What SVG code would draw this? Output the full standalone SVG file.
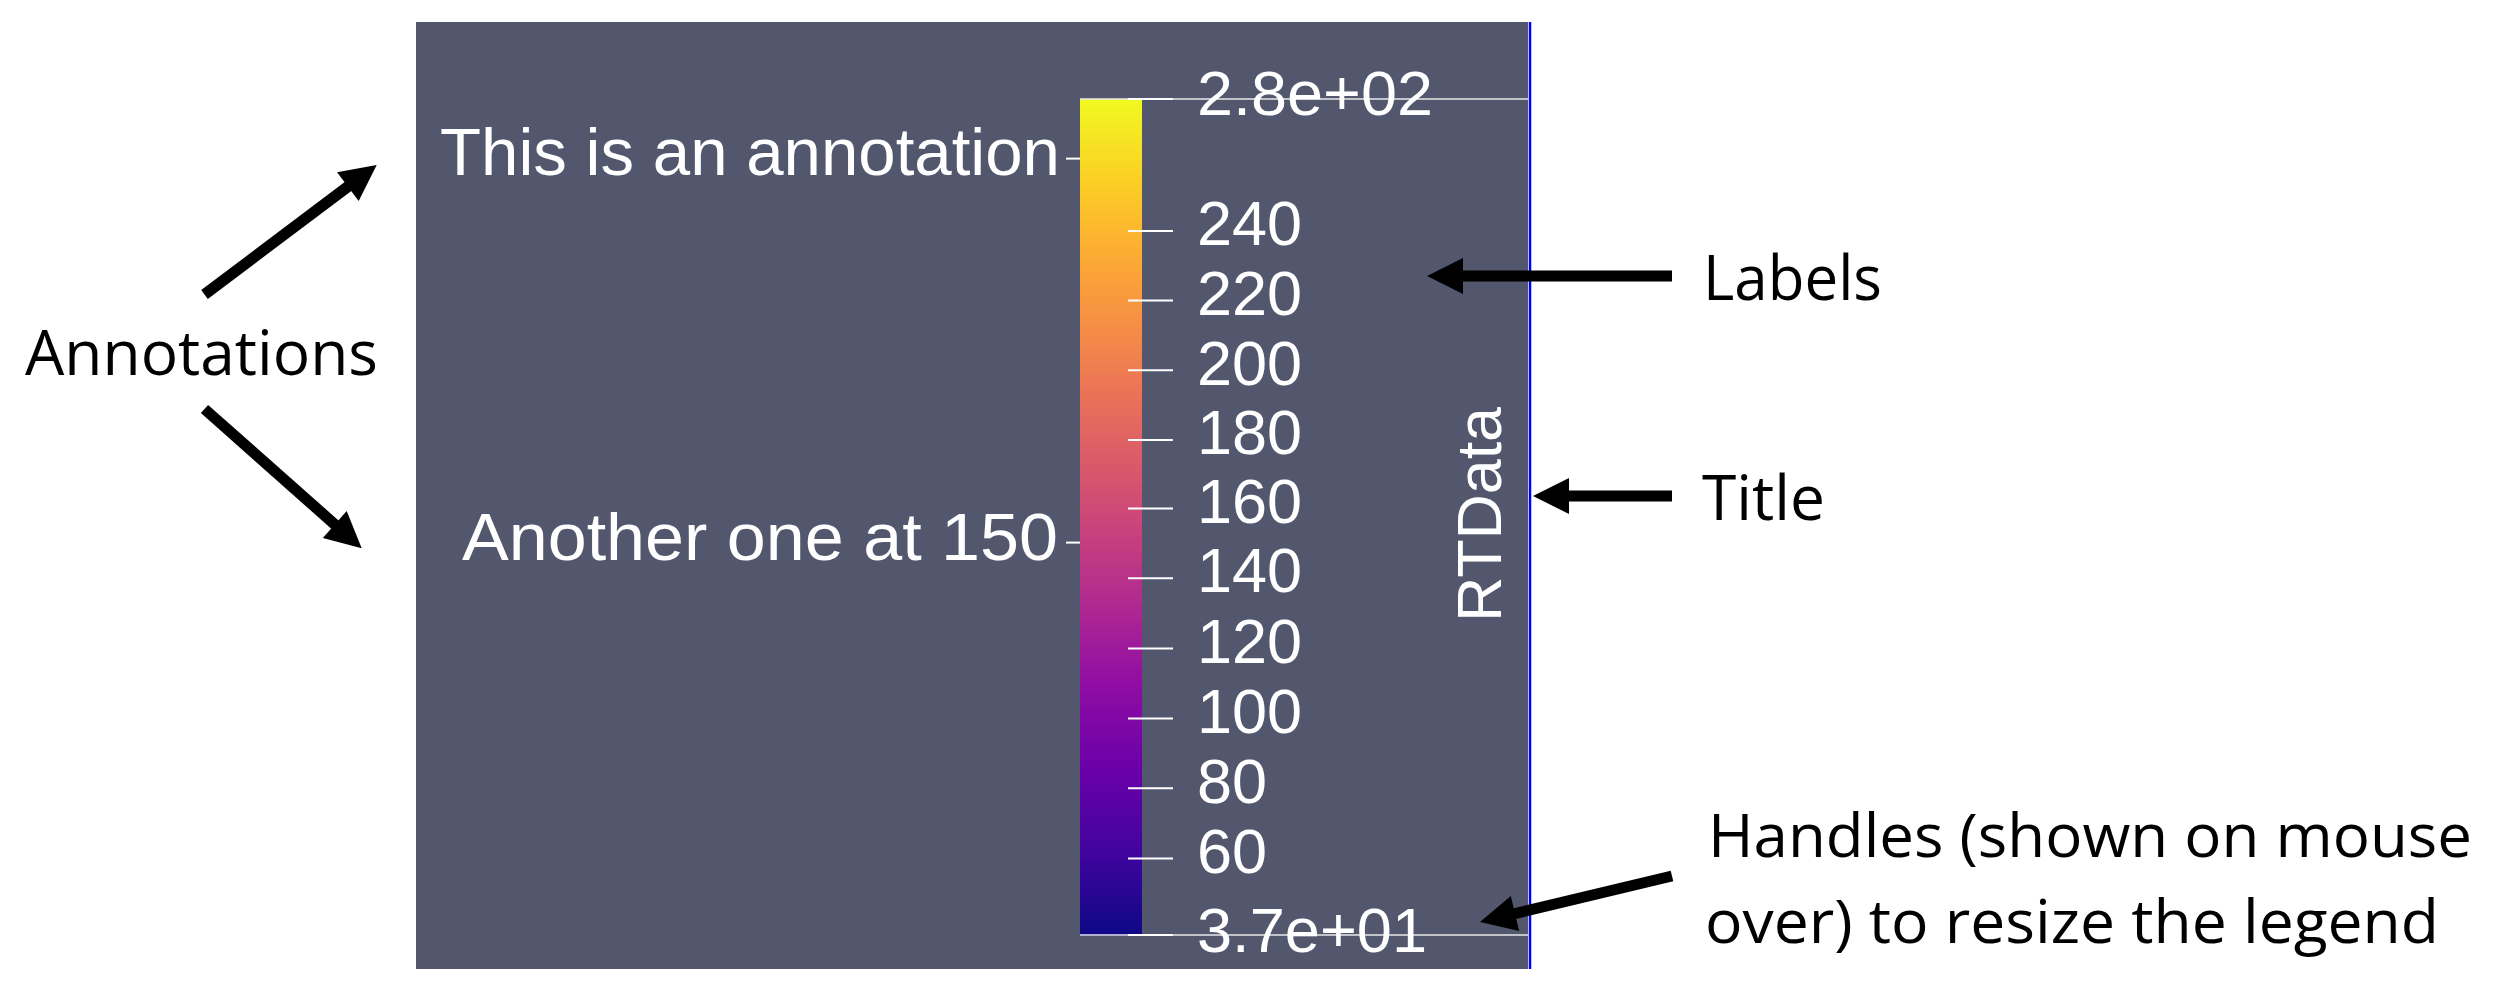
<svg xmlns="http://www.w3.org/2000/svg" width="2496" height="994" viewBox="0 0 2496 994">
  <style>
    .pv { font-family: "Liberation Sans", Arial, sans-serif; fill: #ffffff; font-size: 63px; }
    .ann { font-family: "Liberation Sans", Arial, sans-serif; fill: #ffffff; font-size: 66px; }
    .call { font-family: "Open Sans", "Liberation Sans", sans-serif; fill: #000000; font-size: 63px; }
    .call2 { font-family: "Open Sans", "Liberation Sans", sans-serif; fill: #000000; font-size: 60px; }
    .tick { stroke: #ffffff; stroke-width: 2; }
    .edge { stroke: #e8e8e8; stroke-width: 1.5; }
    .arrow { stroke: #000000; stroke-width: 11; fill: none; marker-end: url(#head); }
  </style>
  <defs>
    <linearGradient id="plasma" x1="0" y1="1" x2="0" y2="0">
      <stop offset="0" stop-color="#0d0887"/>
      <stop offset="0.1" stop-color="#41049d"/>
      <stop offset="0.2" stop-color="#6a00a8"/>
      <stop offset="0.3" stop-color="#8f0da4"/>
      <stop offset="0.4" stop-color="#b12a90"/>
      <stop offset="0.5" stop-color="#cc4778"/>
      <stop offset="0.6" stop-color="#e16462"/>
      <stop offset="0.7" stop-color="#f2844b"/>
      <stop offset="0.8" stop-color="#fca636"/>
      <stop offset="0.9" stop-color="#fcce25"/>
      <stop offset="1" stop-color="#f0f921"/>
    </linearGradient>
    <marker id="head" markerUnits="userSpaceOnUse" markerWidth="40" markerHeight="40" viewBox="0 -20 40 40" refX="0" refY="0" orient="auto" overflow="visible">
      <path d="M-1,-18 L35,0 L-1,18 Z" fill="#000000"/>
    </marker>
  </defs>

  <rect width="2496" height="994" fill="#ffffff"/>

  <g id="panel">
    <rect x="416" y="22" width="1112" height="947" fill="#52576e"/>
    <line x1="1530" y1="22" x2="1530" y2="969" stroke="#0000ff" stroke-width="2.5"/>
  </g>

  <g id="colorbar">
    <rect x="1080" y="99" width="62" height="837" fill="url(#plasma)"/>
    <line class="edge" x1="1080" y1="99" x2="1528" y2="99"/>
    <line class="edge" x1="1080" y1="935" x2="1528" y2="935"/>
    <line class="tick" x1="1128" y1="99" x2="1173" y2="99"/>
    <line class="tick" x1="1128" y1="231" x2="1173" y2="231"/>
    <line class="tick" x1="1128" y1="300.6" x2="1173" y2="300.6"/>
    <line class="tick" x1="1128" y1="370.3" x2="1173" y2="370.3"/>
    <line class="tick" x1="1128" y1="440" x2="1173" y2="440"/>
    <line class="tick" x1="1128" y1="508.5" x2="1173" y2="508.5"/>
    <line class="tick" x1="1128" y1="578.2" x2="1173" y2="578.2"/>
    <line class="tick" x1="1128" y1="648.4" x2="1173" y2="648.4"/>
    <line class="tick" x1="1128" y1="718.6" x2="1173" y2="718.6"/>
    <line class="tick" x1="1128" y1="788.3" x2="1173" y2="788.3"/>
    <line class="tick" x1="1128" y1="858.5" x2="1173" y2="858.5"/>
    <line class="tick" x1="1128" y1="935" x2="1173" y2="935"/>
  </g>

  <g id="tick-labels">
    <text class="pv" x="1197" y="115" textLength="236" lengthAdjust="spacingAndGlyphs">2.8e+02</text>
    <text class="pv" x="1197" y="245">240</text>
    <text class="pv" x="1197" y="315">220</text>
    <text class="pv" x="1197" y="384.5">200</text>
    <text class="pv" x="1197" y="454">180</text>
    <text class="pv" x="1197" y="522.5">160</text>
    <text class="pv" x="1197" y="592">140</text>
    <text class="pv" x="1197" y="662.5">120</text>
    <text class="pv" x="1197" y="732.5">100</text>
    <text class="pv" x="1197" y="802.5">80</text>
    <text class="pv" x="1197" y="872.5">60</text>
    <text class="pv" x="1197" y="952" textLength="230" lengthAdjust="spacingAndGlyphs">3.7e+01</text>
  </g>

  <g id="title">
    <text class="pv" transform="translate(1501,622) rotate(-90)" textLength="215" lengthAdjust="spacingAndGlyphs">RTData</text>
  </g>

  <g id="annotation-1">
    <text class="ann" x="440" y="175" textLength="620" lengthAdjust="spacingAndGlyphs">This is an annotation</text>
    <line class="tick" x1="1066" y1="158.6" x2="1080" y2="158.6"/>
  </g>
  <g id="annotation-2">
    <text class="ann" x="462" y="560" textLength="596" lengthAdjust="spacingAndGlyphs">Another one at 150</text>
    <line class="tick" x1="1066" y1="542.6" x2="1080" y2="542.6"/>
  </g>

  <g id="callout-annotations">
    <text class="call" x="25" y="375" textLength="353" lengthAdjust="spacingAndGlyphs">Annotations</text>
  </g>
  <g id="callout-labels">
    <text class="call" x="1703" y="300" textLength="179" lengthAdjust="spacingAndGlyphs">Labels</text>
  </g>
  <g id="callout-title">
    <text class="call" x="1702" y="520" textLength="123" lengthAdjust="spacingAndGlyphs">Title</text>
  </g>
  <g id="callout-handles">
    <text class="call2" x="1708" y="857" textLength="764" lengthAdjust="spacingAndGlyphs">Handles (shown on mouse</text>
    <text class="call2" x="1705" y="943" textLength="734" lengthAdjust="spacingAndGlyphs">over) to resize the legend</text>
  </g>

  <g id="connectors">
    <line class="arrow" x1="204.5" y1="294.5" x2="348.7" y2="186"/>
    <line class="arrow" x1="204.5" y1="409" x2="335.5" y2="525.1"/>
    <line class="arrow" x1="1672" y1="276" x2="1462" y2="276"/>
    <line class="arrow" x1="1672" y1="496" x2="1568" y2="496"/>
    <line class="arrow" x1="1672" y1="876" x2="1514" y2="913.8"/>
  </g>
</svg>
